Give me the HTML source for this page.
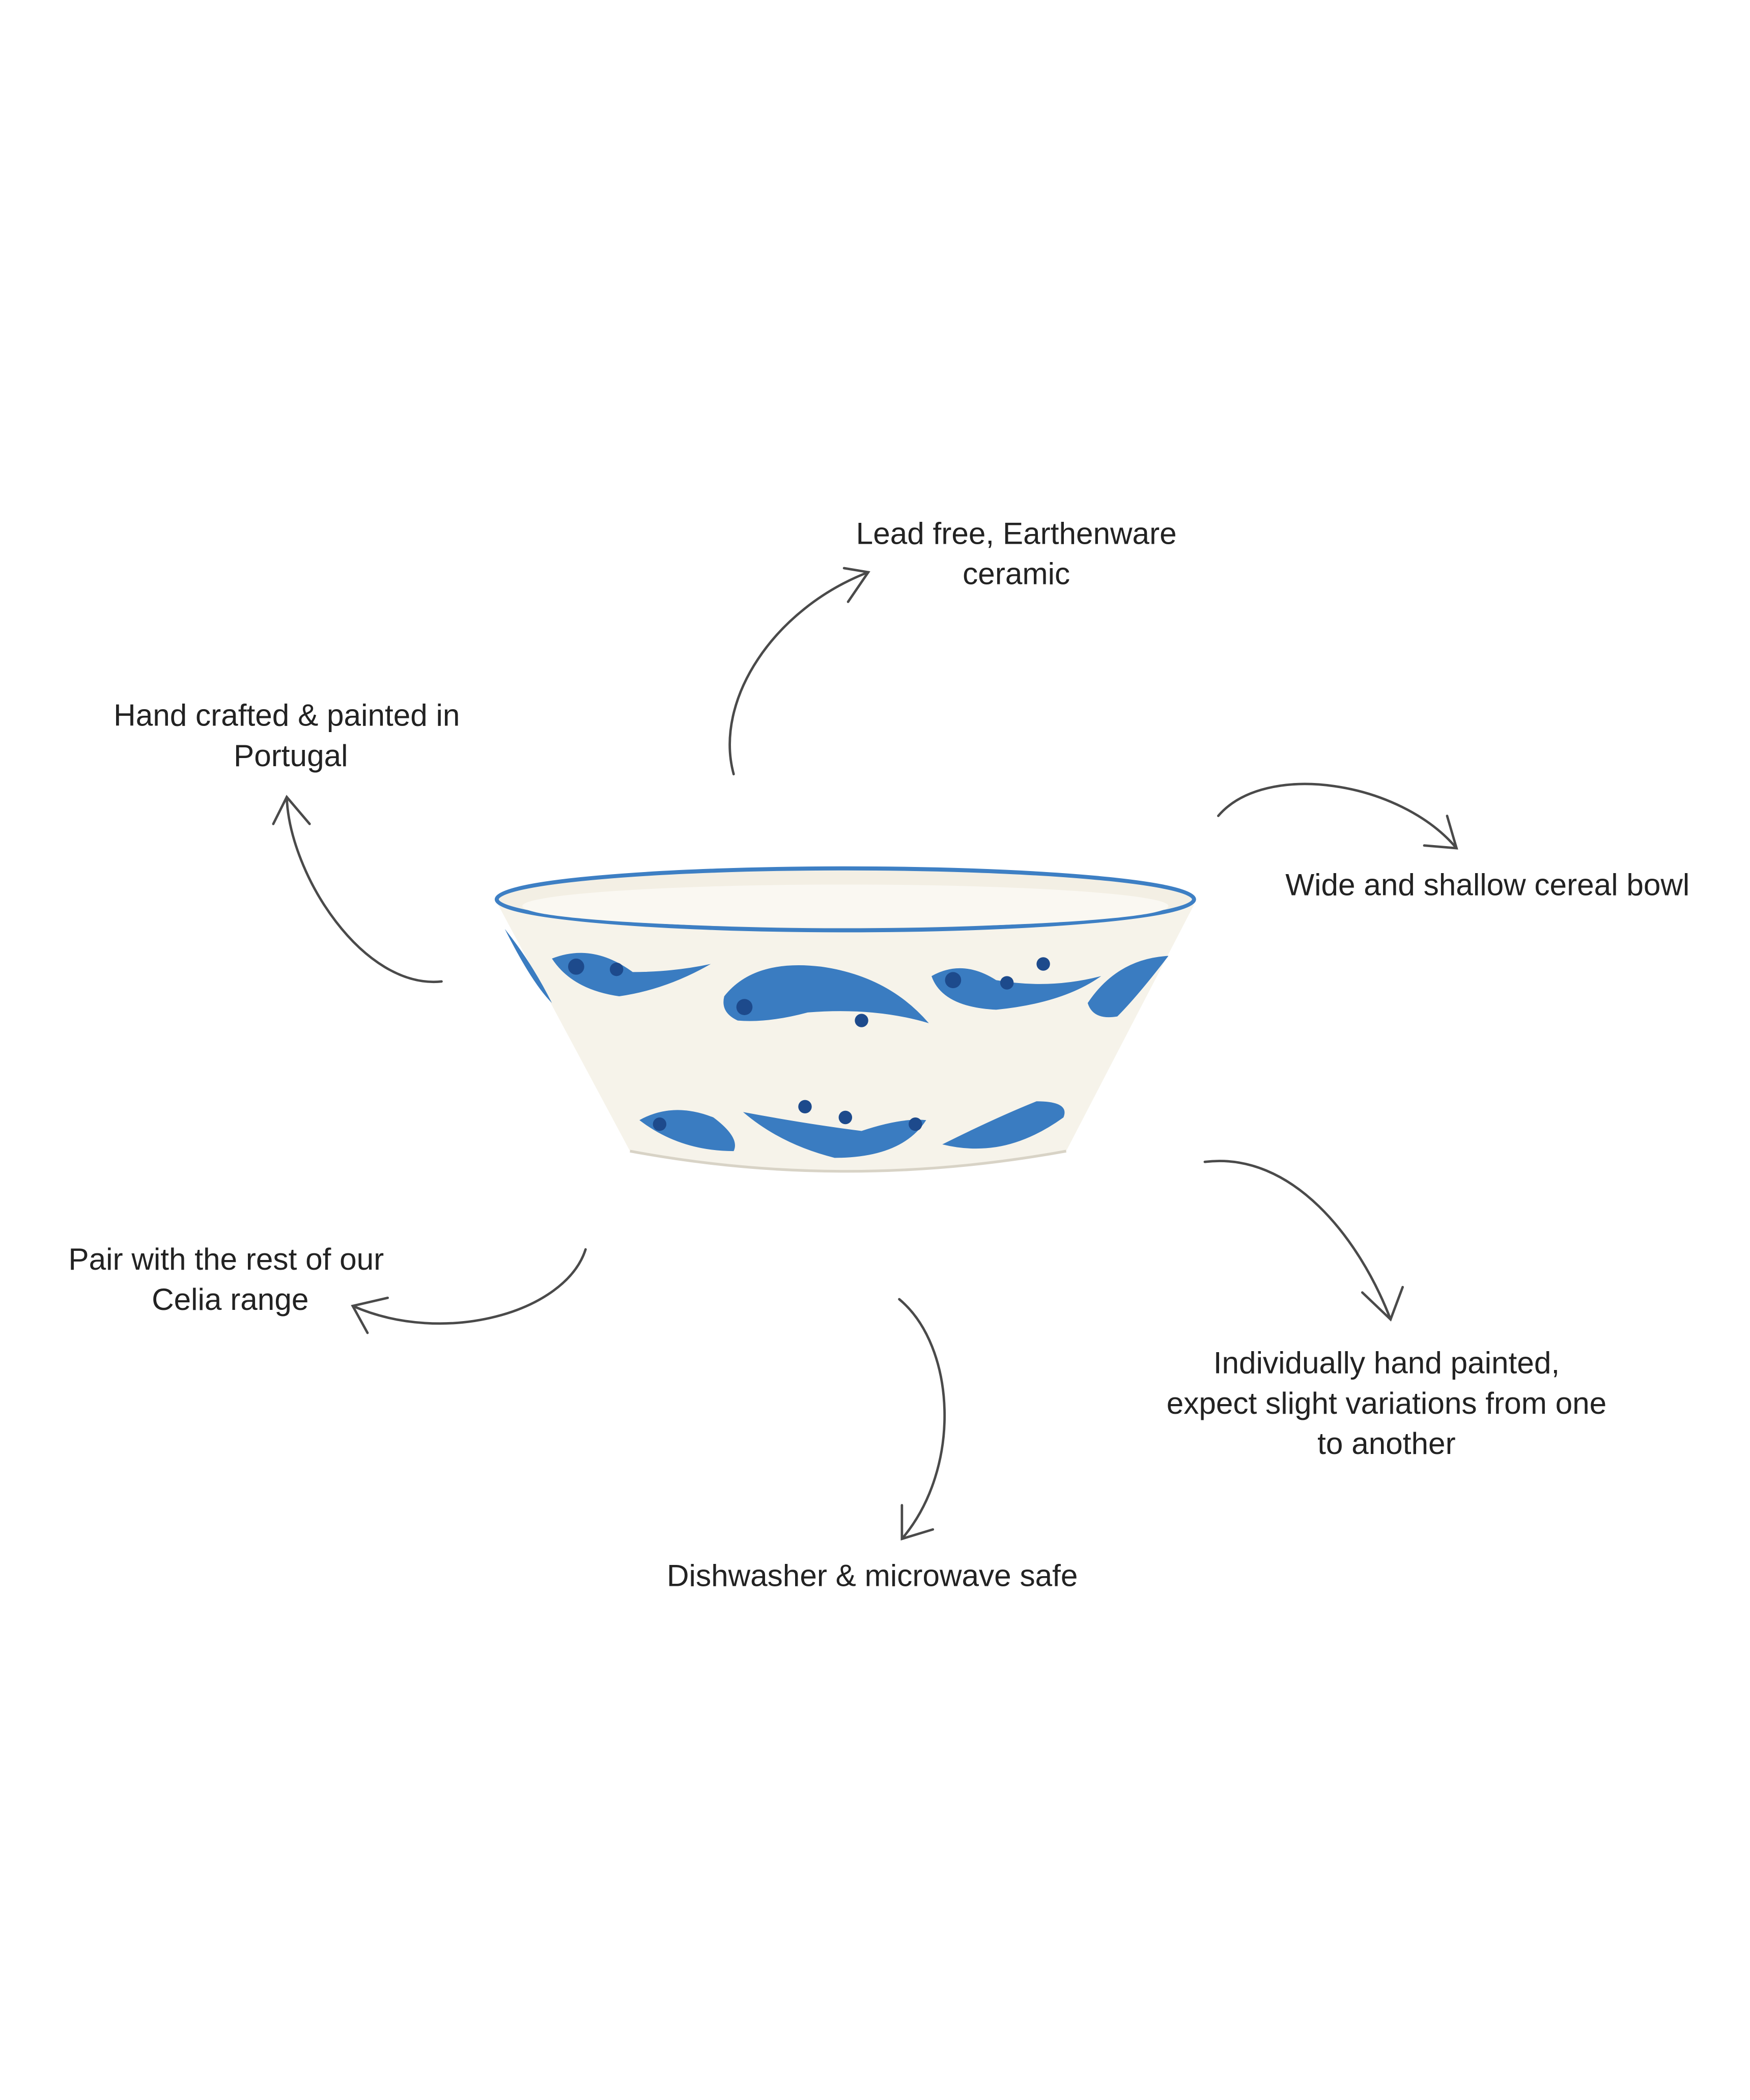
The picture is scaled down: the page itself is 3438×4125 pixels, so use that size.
<!DOCTYPE html>
<html><head><meta charset="utf-8"><style>
html,body{margin:0;padding:0;background:#fff;}
svg{display:block;}
text{font-family:"Liberation Sans",sans-serif;font-size:22.8px;fill:#222;text-anchor:middle;}
.a{fill:none;stroke:#4a4a4a;stroke-width:1.8;stroke-linecap:round;}
</style></head><body>
<svg width="3438" height="4125" viewBox="0 0 1300 1559.8" xmlns="http://www.w3.org/2000/svg">
<rect width="1300" height="1560" fill="#fff"/>
<path d="M370,672 L468,855 Q628,885 792,855 L887,672 Z" fill="#f6f3ea"/>
<path d="M468,855 Q628,885 792,855" fill="none" stroke="#d8d3c6" stroke-width="2"/>
<ellipse cx="628" cy="668" rx="259" ry="23" fill="#f3efe4" stroke="#3d7fc4" stroke-width="3"/>
<ellipse cx="628" cy="673" rx="240" ry="16" fill="#faf8f2"/>
<g fill="#3a7cc1">
<path d="M410,712 Q440,700 470,722 Q500,722 528,716 Q495,735 460,740 Q425,735 410,712Z"/>
<path d="M538,740 Q560,712 610,718 Q660,725 690,760 Q650,748 600,752 Q570,760 548,758 Q535,752 538,740Z"/>
<path d="M692,725 Q715,712 740,728 Q780,735 818,725 Q790,745 740,750 Q700,748 692,725Z"/>
<path d="M808,745 Q830,712 868,710 Q845,740 830,755 Q812,758 808,745Z"/>
<path d="M475,832 Q500,818 530,830 Q550,845 545,855 Q505,855 475,832Z"/>
<path d="M552,826 Q600,835 640,840 Q670,830 688,832 Q670,860 620,860 Q580,850 552,826Z"/>
<path d="M700,850 Q740,830 770,818 Q795,818 790,830 Q765,848 740,852 Q720,855 700,850Z"/>
<path d="M375,690 Q395,715 410,745 Q395,730 375,690Z"/>
</g>
<g fill="#1d4a8c">
<circle cx="428" cy="718" r="6"/><circle cx="458" cy="720" r="5"/><circle cx="553" cy="748" r="6"/><circle cx="640" cy="758" r="5"/>
<circle cx="708" cy="728" r="6"/><circle cx="748" cy="730" r="5"/><circle cx="775" cy="716" r="5"/><circle cx="490" cy="835" r="5"/>
<circle cx="598" cy="822" r="5"/><circle cx="628" cy="830" r="5"/><circle cx="680" cy="835" r="5"/>
</g>
<path class="a" d="M545,575 C530,520 575,452 645,425"/><path class="a" d="M627,422 L645,425 L630,447"/>
<path class="a" d="M328,729 C270,735 215,650 213,592"/><path class="a" d="M203,612 L213,592 L230,612"/>
<path class="a" d="M905,606 C940,565 1040,580 1082,630"/><path class="a" d="M1075,606 L1082,630 L1058,628"/>
<path class="a" d="M435,928 C420,975 330,1000 262,970"/><path class="a" d="M288,964 L262,970 L273,990"/>
<path class="a" d="M895,863 C960,855 1010,920 1033,980"/><path class="a" d="M1012,960 L1033,980 L1042,956"/>
<path class="a" d="M668,965 C710,1000 715,1090 670,1143"/><path class="a" d="M670,1118 L670,1143 L693,1136"/>
<text x="755" y="404">Lead free, Earthenware</text>
<text x="755" y="434">ceramic</text>
<text x="213" y="539">Hand crafted &amp; painted in</text>
<text x="216" y="569">Portugal</text>
<text x="1105" y="665">Wide and shallow cereal bowl</text>
<text x="168" y="943">Pair with the rest of our</text>
<text x="171" y="973">Celia range</text>
<text x="1030" y="1020">Individually hand painted,</text>
<text x="1030" y="1050">expect slight variations from one</text>
<text x="1030" y="1080">to another</text>
<text x="648" y="1178">Dishwasher &amp; microwave safe</text>
</svg>
</body></html>
